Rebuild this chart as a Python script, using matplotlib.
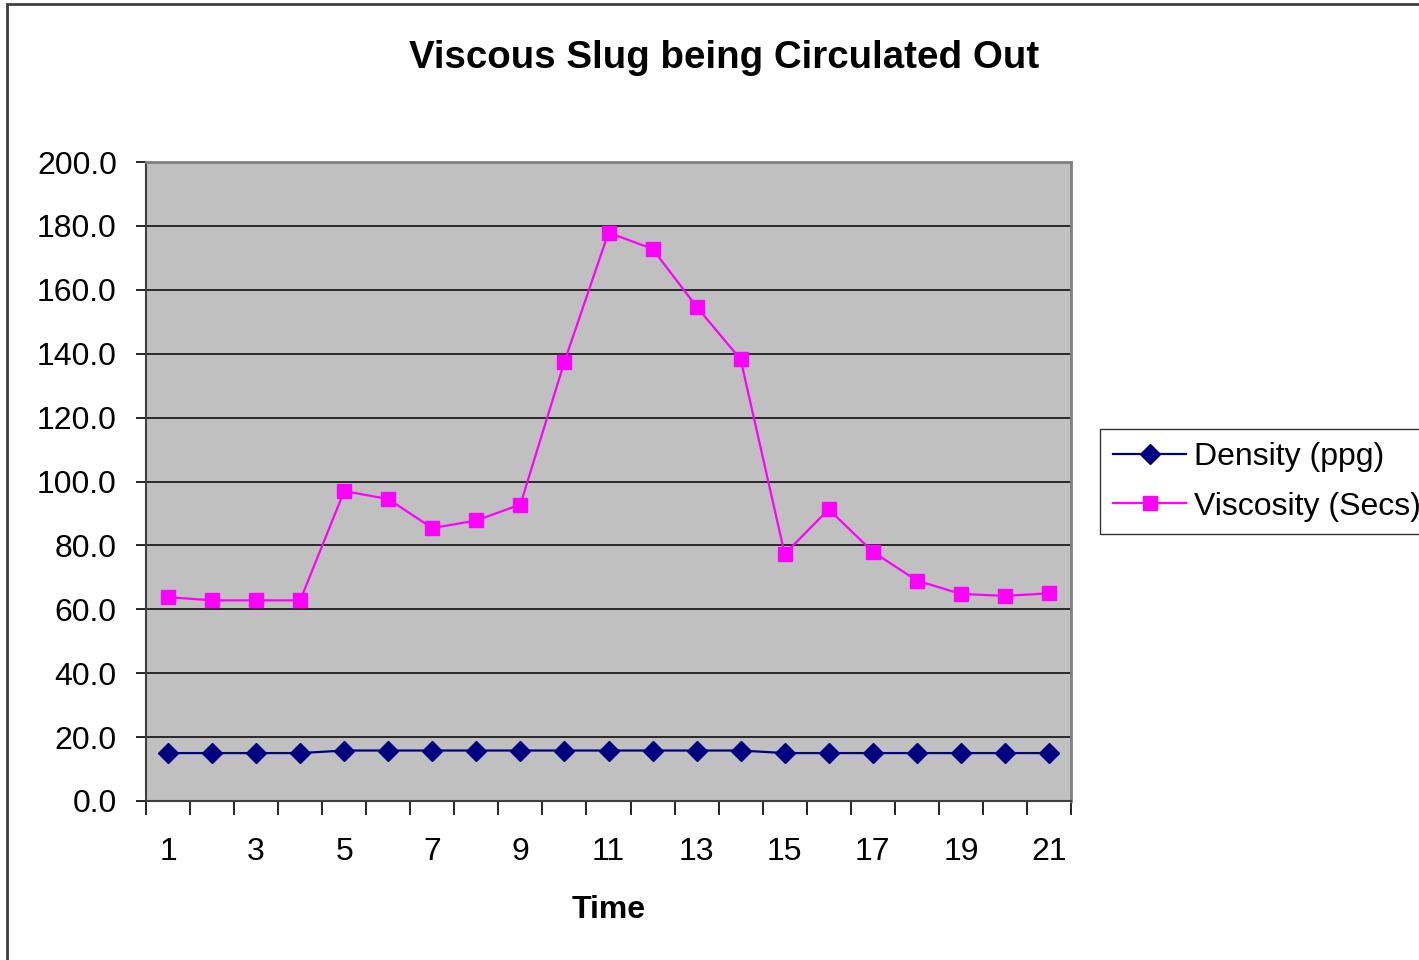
import matplotlib.pyplot as plt
from matplotlib.patches import Rectangle

time = list(range(1, 22))
density = [15.0, 15.0, 15.0, 15.0, 15.8, 15.8, 15.8, 15.8, 15.8, 15.8, 15.8,
           15.8, 15.8, 15.8, 15.0, 15.0, 15.0, 15.0, 15.0, 15.0, 15.0]
viscosity = [63.8, 62.8, 62.8, 62.8, 97.0, 94.5, 85.4, 87.8, 92.8, 137.5, 177.9,
             172.8, 154.7, 138.2, 77.3, 91.3, 78.0, 69.0, 64.8, 64.2, 65.0]
y_ticks = [0, 20, 40, 60, 80, 100, 120, 140, 160, 180, 200]
x_labels = [1, 3, 5, 7, 9, 11, 13, 15, 17, 19, 21]

plt.rcParams['font.family'] = ['Liberation Sans', 'DejaVu Sans']

fig = plt.figure(figsize=(14.19, 9.6), dpi=100)
# outer chart border (top and left edges show in the reference)
fig.patches.append(Rectangle((7 / 1419, -0.05), 1.2, 1 - 4 / 960 + 0.05,
                             transform=fig.transFigure, fill=False,
                             edgecolor='#404040', linewidth=2, zorder=0))

ax = fig.add_axes([146 / 1419, 1 - 801 / 960, (1071 - 146) / 1419, (801 - 162) / 960])
ax.set_facecolor('#C0C0C0')

ax.plot(time, density, color='#000080', linewidth=1.6, marker='D',
        markersize=10, label='Density (ppg)', zorder=3)
ax.plot(time, viscosity, color='#FF00FF', linewidth=1.6, marker='s',
        markersize=10, label='Viscosity (Secs)', zorder=3)

ax.set_xlim(0.5, 21.5)
ax.set_ylim(0, 200)
ax.set_yticks(y_ticks)
ax.set_yticklabels([f'{v:.1f}' for v in y_ticks], fontsize=23)
ax.yaxis.grid(True, color='black', linewidth=1.1)
ax.set_axisbelow(True)

# category ticks sit between the points, labels on every other point
ax.set_xticks([i + 0.5 for i in range(0, 22)])
ax.set_xticklabels([])
ax.set_xticks(x_labels, minor=True)
ax.set_xticklabels([str(v) for v in x_labels], minor=True, fontsize=23)
ax.tick_params(axis='x', which='major', length=10, width=1.2, direction='out')
ax.tick_params(axis='x', which='minor', length=0, pad=26)
ax.tick_params(axis='y', length=7, width=1.2, direction='out', pad=14)

for side in ['top', 'right']:
    ax.spines[side].set_color('#808080')
    ax.spines[side].set_linewidth(2)
for side in ['left', 'bottom']:
    ax.spines[side].set_color('#404040')
    ax.spines[side].set_linewidth(1.5)

ax.set_xlabel('Time', fontsize=23, fontweight='bold', labelpad=20)
fig.text(724 / 1419, 1 - 58 / 960, 'Viscous Slug being Circulated Out',
         ha='center', va='center', fontsize=27.7, fontweight='bold')

leg = fig.legend(loc='upper left', bbox_to_anchor=(1100 / 1419, 1 - 429 / 960),
                 fontsize=23, frameon=True, fancybox=False, borderaxespad=0,
                 handlelength=2.3, handletextpad=0.25, labelspacing=0.62,
                 borderpad=0.4)
leg.get_frame().set_edgecolor('black')
leg.get_frame().set_linewidth(1)

fig.savefig('out.png', dpi=100)
